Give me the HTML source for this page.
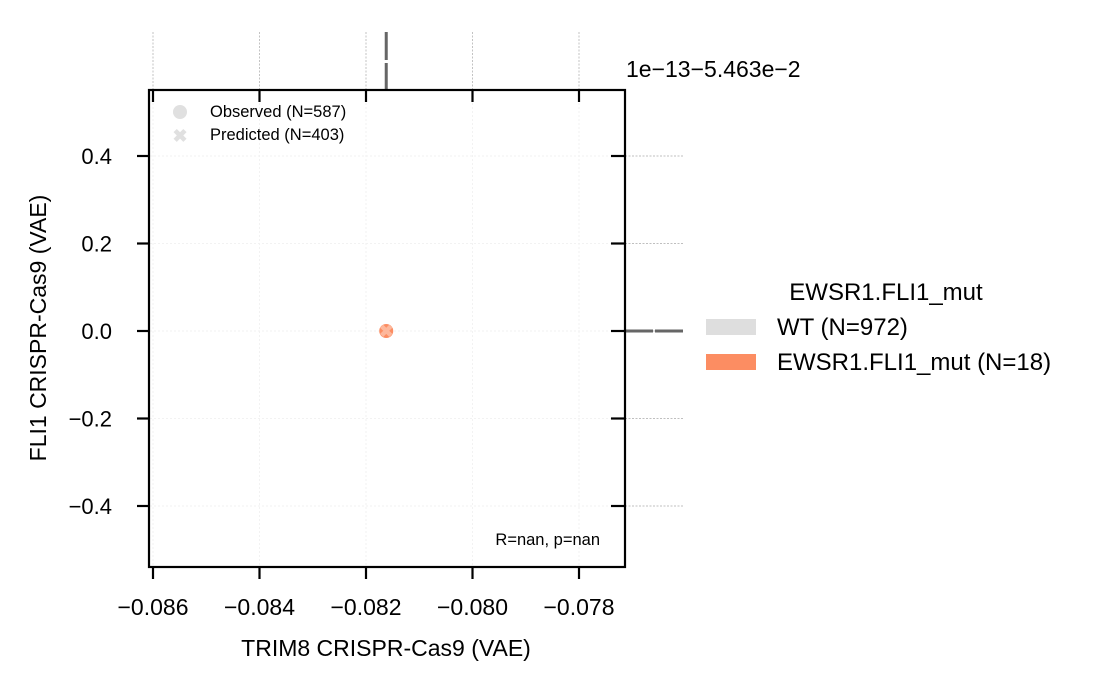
<!DOCTYPE html>
<html><head><meta charset="utf-8"><style>
body{margin:0;background:#fff;}
svg{display:block;font-family:"Liberation Sans",sans-serif;}
</style></head><body>
<svg id="chart" width="1102" height="691" viewBox="0 0 1102 691">
<g id="grid"></g>
<g id="marg"></g>
<g id="pts"></g>
<rect x="149" y="90" width="476" height="477" fill="none" stroke="#000" stroke-width="2.2"/>
<g id="ticks"></g>
<text x="626" y="77" font-size="23">1e−13−5.463e−2</text>
<text x="386" y="656" font-size="23" text-anchor="middle">TRIM8 CRISPR-Cas9 (VAE)</text>
<text transform="translate(46,328) rotate(-90)" font-size="23" text-anchor="middle">FLI1 CRISPR-Cas9 (VAE)</text>
<g>
<circle cx="180" cy="112" r="7" fill="#e0e0e0"/>
<text x="210" y="117" font-size="16.5">Observed (N=587)</text>
<text x="180" y="142" font-size="18" font-weight="bold" fill="#e0e0e0" text-anchor="middle">✖</text>
<text x="210" y="140" font-size="16.5">Predicted (N=403)</text>
</g>
<text x="600" y="545" font-size="16.5" text-anchor="end">R=nan, p=nan</text>
<g>
<text x="886" y="300" font-size="24" text-anchor="middle">EWSR1.FLI1_mut</text>
<rect x="706" y="319" width="50" height="16" fill="#dedede"/>
<text x="777" y="335" font-size="24">WT (N=972)</text>
<rect x="706" y="354" width="50" height="16" fill="#fc8d62"/>
<text x="777" y="370" font-size="24">EWSR1.FLI1_mut (N=18)</text>
</g>
</svg>
<script>
const xTicks=[-0.086,-0.084,-0.082,-0.080,-0.078];
const xTickLabels=["−0.086","−0.084","−0.082","−0.080","−0.078"];
const yTicks=[0.4,0.2,0.0,-0.2,-0.4];
const yTickLabels=["0.4","0.2","0.0","−0.2","−0.4"];
const obsX=[-0.08162];
const obsY=[0.0];
const predX=[-0.08162];
const predY=[0.0];
const NS="http://www.w3.org/2000/svg";
const xs=v=>153+(v+0.086)/0.002*106.5;
const ys=v=>331-v/0.2*87.5;
function mk(p,tag,a){const e=document.createElementNS(NS,tag);for(const k in a)e.setAttribute(k,a[k]);document.getElementById(p).appendChild(e);return e;}
xTicks.forEach((t,i)=>{const x=xs(t);
let g=mk('grid','line',{x1:x,x2:x,y1:91,y2:566,stroke:'#f2f2f2','stroke-width':1,'stroke-dasharray':'2,2'});

let gm=mk('grid','line',{x1:x,x2:x,y1:32,y2:90,stroke:'#aaa','stroke-width':0.7,'stroke-dasharray':'2,1.5'});

let tk=mk('ticks','line',{x1:x,x2:x,y1:567,y2:579,stroke:'#000','stroke-width':2.2});

let tt=mk('ticks','line',{x1:x,x2:x,y1:90,y2:102,stroke:'#000','stroke-width':2.2});

let l=mk('ticks','text',{x:x,y:615,'font-size':23,'text-anchor':'middle'});l.textContent=xTickLabels[i];
});
yTicks.forEach((t,i)=>{const y=ys(t);
let g=mk('grid','line',{x1:150,x2:624,y1:y,y2:y,stroke:'#f2f2f2','stroke-width':1,'stroke-dasharray':'2,2'});

let gm=mk('grid','line',{x1:625,x2:683,y1:y,y2:y,stroke:'#aaa','stroke-width':0.7,'stroke-dasharray':'2,1.5'});

let tk=mk('ticks','line',{x1:137,x2:149,y1:y,y2:y,stroke:'#000','stroke-width':2.2});

let tr=mk('ticks','line',{x1:611,x2:625,y1:y,y2:y,stroke:'#000','stroke-width':2.2});

let l=mk('ticks','text',{x:112,y:y+8,'font-size':22,'text-anchor':'end'});l.textContent=yTickLabels[i];
});
obsX.forEach(v=>{const x=xs(v);
let a=mk('marg','line',{x1:x,x2:x,y1:32,y2:60,stroke:'#666','stroke-width':3});

let b=mk('marg','line',{x1:x,x2:x,y1:63,y2:91,stroke:'#666','stroke-width':3});
});
obsY.forEach(v=>{const y=ys(v);
let a=mk('marg','line',{x1:625,x2:653,y1:y,y2:y,stroke:'#666','stroke-width':3});

let b=mk('marg','line',{x1:655,x2:683,y1:y,y2:y,stroke:'#666','stroke-width':3});
});
obsX.forEach((v,i)=>{let c=mk('pts','circle',{cx:xs(v),cy:ys(obsY[i]),r:7,fill:'#fc8d62'});
});
predX.forEach((v,i)=>{let t=mk('pts','text',{x:xs(v),y:ys(predY[i])+6,'font-size':17,'font-weight':'bold',fill:'#fdb89c','text-anchor':'middle'});t.textContent='✖';
});
</script>
</body></html>
